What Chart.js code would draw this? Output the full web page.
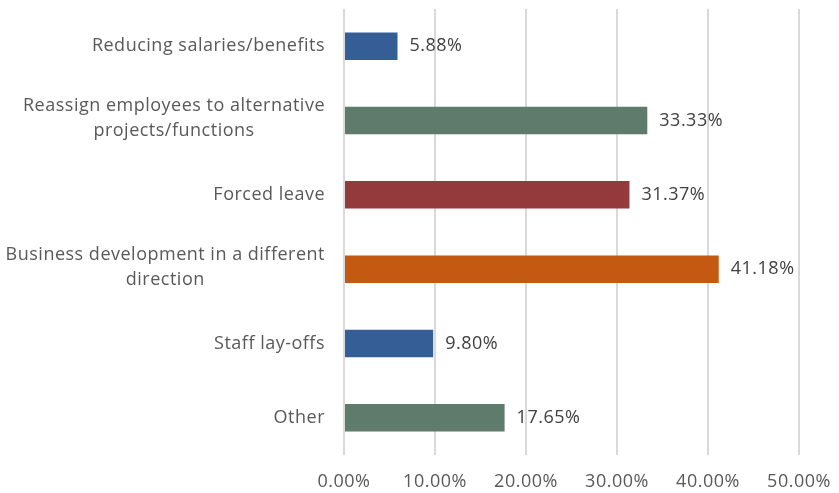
<!DOCTYPE html>
<html><head><meta charset="utf-8">
<script src="https://cdn.jsdelivr.net/npm/chart.js@4/dist/chart.umd.min.js"></script>
<style>html,body{margin:0;padding:0;background:#fff;}#wrap{width:839px;height:493px;}</style>
</head><body><div id="wrap"><canvas id="c" width="839" height="493"></canvas></div>
<script>
const categories = [
  "Reducing salaries/benefits",
  ["Reassign employees to alternative", "projects/functions"],
  "Forced leave",
  ["Business development in a different", "direction"],
  "Staff lay-offs",
  "Other"
];
const values = [5.88, 33.33, 31.37, 41.18, 9.80, 17.65];
const barColors = ["#355e97", "#5e7b6c", "#953a3c", "#c45911", "#355e97", "#5e7b6c"];
const xTicks = [0, 10, 20, 30, 40, 50];

const FONT = "'Open Sans', sans-serif";
const FS = 18;
const LS = "0.5px";

const spacingPlugin = {
  id: 'spacing',
  beforeDraw(chart) { chart.ctx.letterSpacing = LS; }
};

const labelPlugin = {
  id: 'labels',
  afterDraw(chart) {
    const ctx = chart.ctx;
    const ys = chart.scales.y;
    ctx.save();
    ctx.letterSpacing = LS;
    ctx.font = FS + "px " + FONT;
    ctx.fillStyle = "#595959";
    ctx.textBaseline = "middle";
    ctx.textAlign = "center";
    const lh = 25;
    categories.forEach((lab, i) => {
      const lines = Array.isArray(lab) ? lab : [lab];
      const w = Math.max(...lines.map(l => ctx.measureText(l).width));
      const cx = ys.right - 19 - w / 2;
      const cy = ys.getPixelForTick(i) - (lines.length > 1 ? 2 : 0);
      const y0 = cy - (lines.length - 1) * lh / 2;
      lines.forEach((l, k) => ctx.fillText(l, cx, y0 + k * lh));
    });
    ctx.fillStyle = "#404040";
    ctx.textAlign = "left";
    const meta = chart.getDatasetMeta(0);
    meta.data.forEach((bar, i) => {
      ctx.fillText(values[i].toFixed(2) + "%", bar.x + 12, bar.y);
    });
    ctx.restore();
  }
};

new Chart(document.getElementById('c'), {
  type: 'bar',
  data: {
    labels: categories,
    datasets: [{
      data: values,
      backgroundColor: barColors,
      borderWidth: 0,
      barPercentage: 0.37,
      categoryPercentage: 1
    }]
  },
  options: {
    indexAxis: 'y',
    responsive: false,
    animation: false,
    devicePixelRatio: 1,
    layout: { padding: { top: 9, right: 0, left: 0, bottom: 0 } },
    plugins: { legend: { display: false }, tooltip: { enabled: false } },
    scales: {
      x: {
        min: 0, max: 50,
        afterBuildTicks: s => { s.ticks = xTicks.map(v => ({ value: v })); },
        afterFit: s => { s.height = 38; s.paddingRight = 40; s.paddingLeft = 0; },
        grid: { color: "#d9d9d9", lineWidth: 2, drawTicks: false },
        border: { display: false },
        ticks: {
          padding: 16,
          color: "#595959",
          font: { family: FONT, size: FS },
          callback: v => Number(v).toFixed(2) + "%"
        }
      },
      y: {
        afterFit: s => { s.width = 344; },
        grid: { display: false },
        border: { display: false },
        ticks: { display: false }
      }
    }
  },
  plugins: [spacingPlugin, labelPlugin]
});
</script>
</body></html>
